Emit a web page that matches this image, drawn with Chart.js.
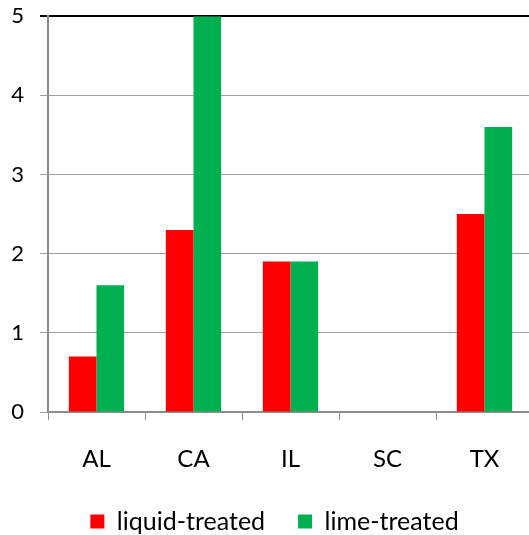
<!DOCTYPE html>
<html>
<head>
<meta charset="utf-8">
<script src="https://cdn.jsdelivr.net/npm/chart.js@4"></script>
<style>
  html, body { margin: 0; padding: 0; background: #fff; overflow: hidden; }
  #wrap { width: 533px; height: 557px; position: relative; margin-top: -13px; }
</style>
</head>
<body>
<div id="wrap"><canvas id="chart"></canvas></div>
<script>
// data
const states = ["AL", "CA", "IL", "SC", "TX"];
const liquidTreated = [0.7, 2.3, 1.9, 0, 2.5];
const limeTreated = [1.6, 5, 1.9, 0, 3.6];
const yTicks = [0, 1, 2, 3, 4, 5];

const FONT = "Lato, 'Liberation Sans', sans-serif";

// legend sits a bit right of canvas center in the original
const legendShift = {
  id: "legendShift",
  afterLayout(chart) {
    if (!chart.legend) return;
    chart.legend.left += 8;
    chart.legend.right += 8;
  }
};

new Chart(document.getElementById("chart"), {
  type: "bar",
  data: {
    labels: states,
    datasets: [
      {
        label: "liquid-treated",
        data: liquidTreated,
        backgroundColor: "#ff0000",
        categoryPercentage: 0.57,
        barPercentage: 1
      },
      {
        label: "lime-treated",
        data: limeTreated,
        backgroundColor: "#00b050",
        categoryPercentage: 0.57,
        barPercentage: 1
      }
    ]
  },
  plugins: [legendShift],
  options: {
    responsive: true,
    maintainAspectRatio: false,
    animation: false,
    layout: { padding: { top: 3, left: 0, right: 0, bottom: 0 } },
    plugins: {
      tooltip: { enabled: false },
      legend: {
        position: "bottom",
        labels: {
          font: { family: FONT, size: 25 },
          color: "#000",
          boxWidth: 14,
          boxHeight: 14,
          padding: 33
        }
      }
    },
    scales: {
      x: {
        afterFit: s => { s.height = 64; },
        grid: {
          offset: true,
          drawOnChartArea: false,
          tickLength: 8,
          color: "#8c8c8c",
          lineWidth: 1
        },
        border: { color: "#8c8c8c", width: 2 },
        ticks: {
          font: { family: FONT, size: 24 },
          color: "#000",
          padding: 25
        }
      },
      y: {
        min: 0,
        max: 5,
        afterBuildTicks: s => { s.ticks = yTicks.map(v => ({ value: v })); },
        afterFit: s => { s.width = 48; },
        grid: {
          tickLength: 8,
          color: ctx => (ctx.tick && ctx.tick.value === 5 ? "#000" : "#a0a0a0"),
          lineWidth: ctx => (ctx.tick && ctx.tick.value === 5 ? 2 : 1)
        },
        border: { color: "#8c8c8c", width: 2 },
        ticks: {
          font: { family: FONT, size: 22 },
          color: "#000",
          padding: 16
        }
      }
    }
  }
});
</script>
</body>
</html>
